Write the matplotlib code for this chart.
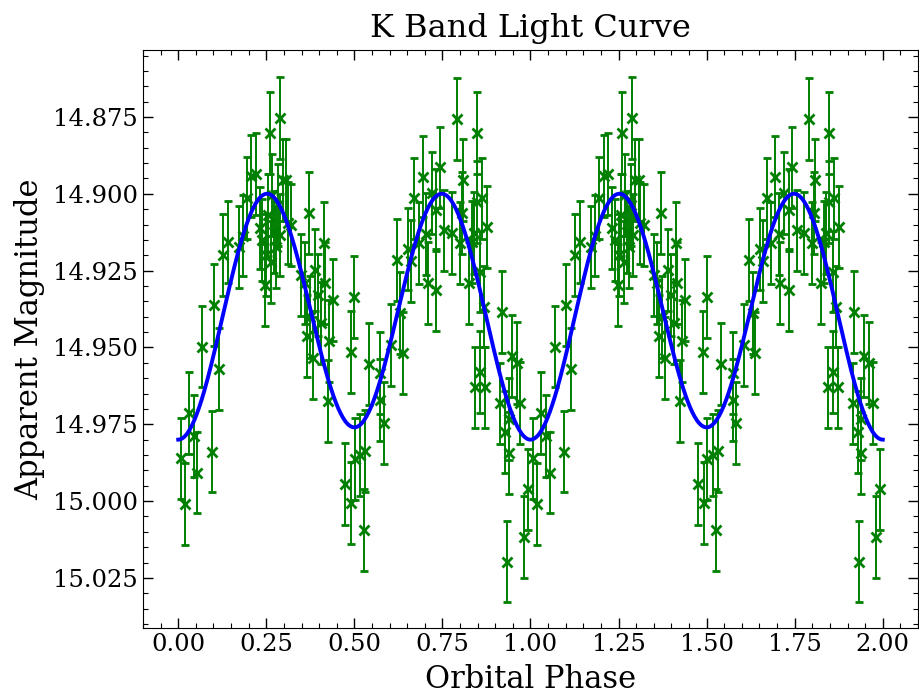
import numpy as np
import matplotlib
matplotlib.use("Agg")
import matplotlib.pyplot as plt
from matplotlib.ticker import MultipleLocator

# Observed K-band data for one orbital cycle (phase, apparent magnitude)
phase = [0.0065, 0.019, 0.0304, 0.0446, 0.054, 0.0682, 0.0946, 0.1014, 0.1156,
         0.127, 0.140, 0.1727, 0.1838, 0.1952, 0.2074, 0.2202, 0.231, 0.2472,
         0.2594, 0.2878, 0.2974, 0.3068, 0.3116, 0.321,
         0.2386, 0.250, 0.2557, 0.2642, 0.2727, 0.2784, 0.2841, 0.267, 0.2898,
         0.3494, 0.3588, 0.3713, 0.373, 0.3656, 0.3827, 0.4063, 0.4128, 0.4156,
         0.429, 0.4241, 0.4395, 0.4744, 0.4906, 0.4915, 0.500, 0.5014,
         0.3892, 0.3977,
         0.517, 0.5313, 0.5264, 0.5406, 0.5739, 0.5739, 0.5832, 0.6051, 0.6213,
         0.6307, 0.6384, 0.6514, 0.6611, 0.6705, 0.6827, 0.6952, 0.7045, 0.7082,
         0.7207, 0.733, 0.733, 0.7423, 0.7557, 0.7776, 0.7918, 0.7991, 0.806,
         0.8088, 0.8247, 0.8344, 0.8389, 0.8486, 0.8486, 0.858, 0.8628, 0.8673,
         0.877, 0.8438, 0.858, 0.8722, 0.9148, 0.9196, 0.929, 0.9338, 0.9384,
         0.9384, 0.948, 0.9622, 0.9716, 0.981, 0.9923]
mag = [14.9861, 15.0010, 14.9714, 14.9788, 14.9907, 14.9497, 14.9839, 14.9362, 14.9571,
       14.9199, 14.9156, 14.9172, 14.9136, 14.9013, 14.8942, 14.8935, 14.9112, 14.9297,
       14.8801, 14.8754, 14.8955, 14.8955, 14.9096, 14.9101,
       14.9150, 14.9199, 14.9069, 14.9222, 14.9124, 14.9172, 14.9036, 14.9004, 14.9134,
       14.9264, 14.9291, 14.9063, 14.9400, 14.9463, 14.9535, 14.9420, 14.9161, 14.9291,
       14.9479, 14.9674, 14.9346, 14.9945, 14.9514, 15.0007, 14.9335, 14.9863,
       14.9248, 14.9329,
       14.9850, 14.9836, 15.0094, 14.9555, 14.9584, 14.9671, 14.9745, 14.9492, 14.9215,
       14.9389, 14.9517, 14.9180, 14.9218, 14.9015, 14.9161, 14.8944, 14.9131, 14.9291,
       14.8998, 14.9313, 14.9053, 14.8914, 14.9119, 14.9128, 14.8757, 14.9161, 14.9063,
       14.8955, 14.9291, 14.9156, 14.9128, 14.8801, 14.9026, 14.9253, 14.9015, 14.9367,
       14.9107, 14.9630, 14.9579, 14.9630, 14.9682, 14.9384, 14.9774, 15.0197, 14.9734,
       14.9844, 14.9528, 14.9550, 14.9680, 15.0116, 14.9962]
mag_err = 0.0133

# Model (ellipsoidal variation) parameters
m0 = 14.939
amp_ellip = 0.039
amp_diff = 0.002

xticks = [0.00, 0.25, 0.50, 0.75, 1.00, 1.25, 1.50, 1.75, 2.00]
yticks = [14.875, 14.900, 14.925, 14.950, 14.975, 15.000, 15.025]

plt.rcParams['font.family'] = ['DejaVu Serif']
plt.rcParams['mathtext.fontset'] = 'dejavuserif'

fig = plt.figure(figsize=(9.19, 6.98), dpi=100)
ax = fig.add_axes([143/919, 70/698, 775/919, 578/698])

ph = np.array(phase)
mg = np.array(mag)
ph2 = np.concatenate([ph, ph + 1.0])
mg2 = np.concatenate([mg, mg])

ax.errorbar(ph2, mg2, yerr=mag_err, fmt='x', color='green', ecolor='green',
            elinewidth=1.4, capsize=2.8, capthick=1.4, markersize=7, mew=2.0, zorder=2)

xm = np.linspace(0, 2, 600)
model = m0 + amp_ellip * np.cos(4 * np.pi * xm) + amp_diff * np.cos(2 * np.pi * xm)
ax.plot(xm, model, color='blue', lw=2.8, zorder=3)

ax.set_xlim(-0.1, 2.1)
ax.set_ylim(15.0413, 14.8532)
ax.set_xticks(xticks)
ax.set_yticks(yticks)
ax.xaxis.set_minor_locator(MultipleLocator(0.05))
ax.yaxis.set_minor_locator(MultipleLocator(0.005))
ax.tick_params(which='both', direction='in', top=True, right=True, labelsize=17.5)
ax.tick_params(which='major', length=7, width=1)
ax.tick_params(which='minor', length=3.5, width=0.8)

ax.set_xlabel('Orbital Phase', fontsize=22, labelpad=6)
ax.set_ylabel('Apparent Magnitude', fontsize=22, labelpad=6)
ax.set_title('K Band Light Curve', fontsize=23, pad=9)

fig.savefig('out.png', dpi=100)
